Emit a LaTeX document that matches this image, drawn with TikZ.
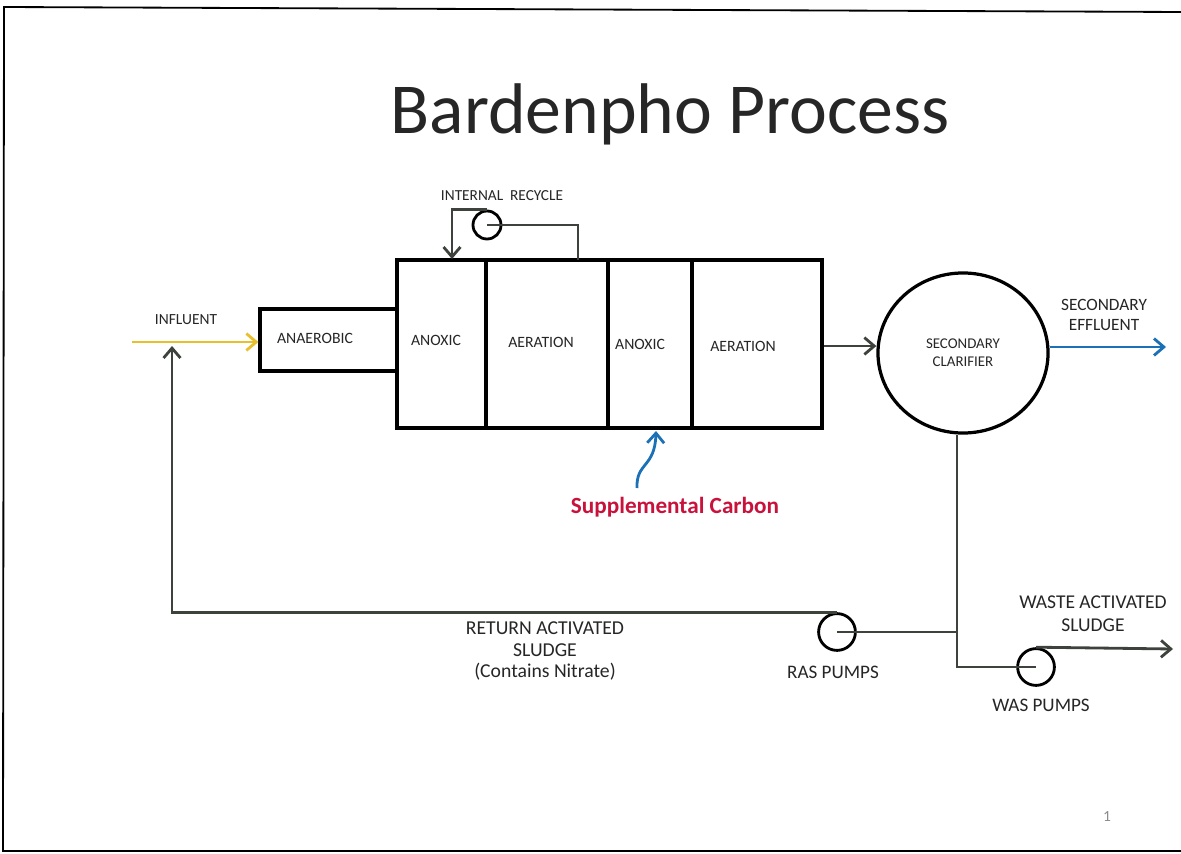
\documentclass[tikz,border=0pt]{standalone}
\usepackage{fontspec}
\setmainfont{Carlito}
\usetikzlibrary{arrows.meta, shapes.geometric}
\definecolor{pipegray}{RGB}{62,66,60}
\definecolor{influentyellow}{RGB}{232,192,44}
\definecolor{effluentblue}{RGB}{28,112,182}
\definecolor{carbonred}{RGB}{200,18,60}

\begin{document}
\begin{tikzpicture}[x=0.025cm, y=-0.025cm, thick,
	tank/.style = {draw, line width=2.3pt, inner sep=0pt},
	pump/.style = {draw, circle, line width=2pt, inner sep=0pt},
	pipe/.style = {draw=pipegray, line width=2pt},
	flow/.style = {pipe, -{Straight Barb[length=7pt, width=12pt, line width=2pt]}},
	lbl/.style = {text=black!85, align=center},
	basin/.style = {lbl, font=\fontsize{11.2}{13}\selectfont}]

		\useasboundingbox (0,0) rectangle (1181,853);
		\draw[line width=1.3pt] (1181,12) -- (4,7) -- (3,851) -- (1181,851);

		\node[lbl, font=\fontsize{51}{53}\selectfont] (title) at (670,114) {Bardenpho Process};

		% basins
		\node[tank, minimum width=3.425cm, minimum height=1.55cm] (anaerobic) at (328.5,340) {};
		\node[tank, minimum width=2.225cm, minimum height=4.2cm] (anoxic1) at (441.5,344) {};
		\node[tank, minimum width=3.05cm, minimum height=4.2cm] (aeration1) at (547,344) {};
		\node[tank, minimum width=2.1cm, minimum height=4.2cm] (anoxic2) at (650,344) {};
		\node[tank, minimum width=3.25cm, minimum height=4.2cm] (aeration2) at (757,344) {};
		\node[tank, ellipse, minimum width=4.25cm, minimum height=4.0cm, align=center,
			font=\fontsize{10.6}{12.8}\selectfont, text=black!85] (clarifier) at (963,353) {SECONDARY\\CLARIFIER};

		\node[basin] (anaerobicTxt) at (315,338) {ANAEROBIC};
		\node[basin] (anoxic1Txt) at (436,340) {ANOXIC};
		\node[basin] (aeration1Txt) at (541,342) {AERATION};
		\node[basin] (anoxic2Txt) at (640,344) {ANOXIC};
		\node[basin] (aeration2Txt) at (743,346) {AERATION};

		% pumps
		\node[pump, minimum size=0.7cm] (irPump) at (487,225) {};
		\node[pump, minimum size=0.92cm] (rasPump) at (837,632) {};
		\node[pump, minimum size=0.92cm] (wasPump) at (1036,667) {};

		\coordinate (influentStart) at (132,342);
		\coordinate (returnEnd) at (172,346);
		\coordinate (effluentEnd) at (1166,347);
		\coordinate (junction) at (957,632);
		\coordinate (wasElbow) at (957,667);
		\coordinate (wasteEnd) at (1173,649);
		\coordinate (irRise) at (578,260);
		\coordinate (irDrop) at (452,259);
		\coordinate (carbonStart) at (637,488);
		\coordinate (carbonTip) at (656,431);

		% labels
		\node[lbl, font=\fontsize{10.9}{12}\selectfont] (irTxt) at (502,196) {INTERNAL\ \ RECYCLE};
		\node[lbl, font=\fontsize{11}{12}\selectfont] (influentTxt) at (186,320) {INFLUENT};
		\node[lbl, font=\fontsize{12.3}{14.2}\selectfont] (effluentTxt) at (1104,315) {SECONDARY\\EFFLUENT};
		\node[lbl, font=\fontsize{13.9}{16.3}\selectfont] (wasteTxt) at (1093,614) {WASTE ACTIVATED\\SLUDGE};
		\node[lbl, font=\fontsize{13.6}{15}\selectfont] (rasTxt) at (833,672) {RAS PUMPS};
		\node[lbl, font=\fontsize{13.6}{15}\selectfont] (wasTxt) at (1041,705) {WAS PUMPS};
		\node[lbl, font=\fontsize{14}{15.3}\selectfont] (returnTxt) at (545,651) {RETURN ACTIVATED\\SLUDGE\\(Contains Nitrate)};
		\node[lbl, text=carbonred, font=\bfseries\fontsize{16.5}{18}\selectfont] (carbonTxt) at (675,507) {Supplemental Carbon};
		\node[lbl, text=black!45, font=\fontsize{11}{12}\selectfont] (pageNo) at (1107,817) {1};

		% flows
		\draw[flow, draw=influentyellow] (influentStart) -- (anaerobic.west |- influentStart);
		\draw[flow] (aeration2.east |- 0,346) -- (clarifier.west |- 0,346);
		\draw[flow, draw=effluentblue] (clarifier.east |- effluentEnd) -- (effluentEnd);
		\draw[pipe] (irRise) |- (irPump.center);
		\draw[flow] (irPump.north) -| (irDrop);
		\draw[pipe] (clarifier.south -| junction) -- (wasElbow) -- (wasPump.center);
		\draw[pipe] (junction) -- (rasPump.center);
		\draw[flow] (rasPump.north) -| (returnEnd);
		\draw[flow] (wasPump.north) -- (wasteEnd);
		\draw[flow, draw=effluentblue] (carbonStart) .. controls (636,462) and (655,468) .. (carbonTip);
	\end{tikzpicture}
\end{document}
